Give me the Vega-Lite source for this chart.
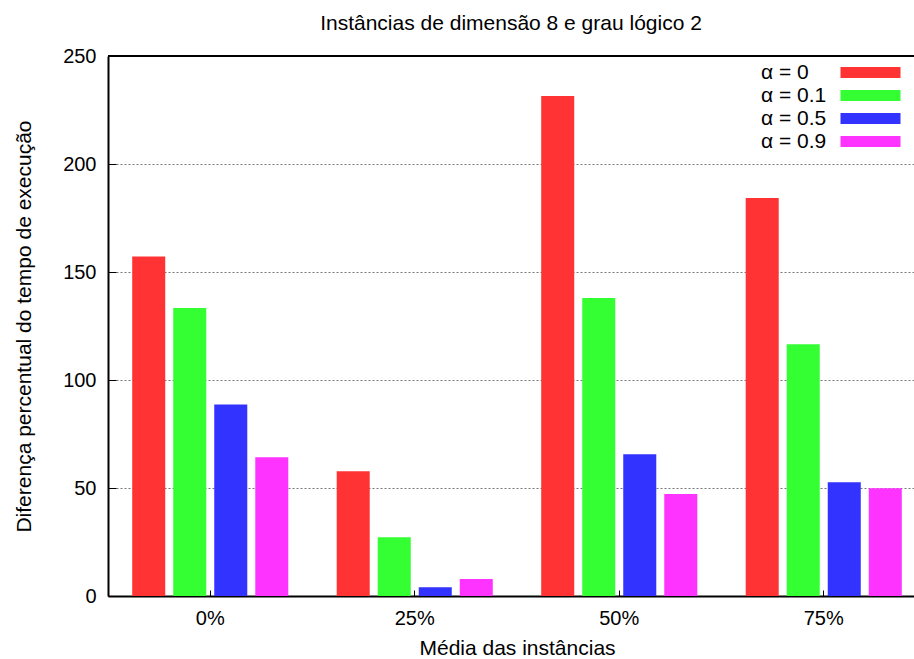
{
  "$schema": "https://vega.github.io/schema/vega-lite/v6.json",
  "autosize": "none",
  "width": 806,
  "height": 540,
  "padding": {"left": 108, "top": 56, "right": 0, "bottom": 63},
  "background": "white",
  "config": {
    "font": "Liberation Sans",
    "view": {"stroke": null},
    "axis": {"labelFont": "Liberation Sans", "titleFont": "Liberation Sans", "labelColor": "#000", "titleColor": "#000", "titleFontWeight": "normal"}
  },
  "title": {"text": "Instâncias de dimensão 8 e grau lógico 2", "fontSize": 21, "fontWeight": "normal", "font": "Liberation Sans", "color": "#000", "offset": 12},
  "data": {
    "values": [
      {"media": "0%", "alpha": "α = 0", "valor": 157.2},
      {"media": "0%", "alpha": "α = 0.1", "valor": 133.3},
      {"media": "0%", "alpha": "α = 0.5", "valor": 88.7},
      {"media": "0%", "alpha": "α = 0.9", "valor": 64.2},
      {"media": "25%", "alpha": "α = 0", "valor": 57.8},
      {"media": "25%", "alpha": "α = 0.1", "valor": 27.2},
      {"media": "25%", "alpha": "α = 0.5", "valor": 4.1},
      {"media": "25%", "alpha": "α = 0.9", "valor": 7.9},
      {"media": "50%", "alpha": "α = 0", "valor": 231.5},
      {"media": "50%", "alpha": "α = 0.1", "valor": 138.0},
      {"media": "50%", "alpha": "α = 0.5", "valor": 65.6},
      {"media": "50%", "alpha": "α = 0.9", "valor": 47.2},
      {"media": "75%", "alpha": "α = 0", "valor": 184.3},
      {"media": "75%", "alpha": "α = 0.1", "valor": 116.6},
      {"media": "75%", "alpha": "α = 0.5", "valor": 52.7},
      {"media": "75%", "alpha": "α = 0.9", "valor": 49.9}
    ]
  },
  "layer": [
    {
      "mark": {"type": "bar"},
      "encoding": {
        "x": {
          "field": "media", "type": "nominal", "sort": ["0%", "25%", "50%", "75%"],
          "scale": {"range": [0, 818], "paddingInner": 0, "paddingOuter": 0},
          "axis": {"title": "Média das instâncias", "titleFontSize": 21, "titlePadding": 9, "labelFontSize": 20, "labelAngle": 0, "labelPadding": 18, "tickSize": -6, "tickColor": "#000", "tickWidth": 1, "domainColor": "#000", "domainWidth": 2}
        },
        "xOffset": {"field": "alpha", "type": "nominal", "scale": {"paddingInner": 0.195, "paddingOuter": 0.59}},
        "y": {
          "field": "valor", "type": "quantitative",
          "scale": {"domain": [0, 250], "nice": false},
          "axis": {"title": "Diferença percentual do tempo de execução", "titleFontSize": 21, "titlePadding": 28, "labelFontSize": 20, "labelPadding": 20, "tickSize": -8, "tickColor": "#000", "tickWidth": 1, "values": [0, 50, 100, 150, 200, 250], "grid": true, "gridDash": [2, 2], "gridColor": "#777", "gridWidth": 1, "domainColor": "#000", "domainWidth": 2}
        },
        "color": {
          "field": "alpha", "type": "nominal",
          "scale": {"domain": ["α = 0", "α = 0.1", "α = 0.5", "α = 0.9"], "range": ["#ff3333", "#33ff33", "#3333ff", "#ff33ff"]},
          "legend": {
            "title": null, "orient": "none", "legendX": 752, "legendY": 6,
            "symbolType": "M-3,-0.55H3V0.55H-3Z", "symbolSize": 400, "symbolStrokeWidth": 0,
            "labelFontSize": 21, "labelFont": "Liberation Sans", "labelColor": "#000", "labelAlign": "left", "labelOffset": -120,
            "rowPadding": 1, "padding": 0, "labelLimit": 200
          }
        }
      }
    },
    {
      "mark": {"type": "rule", "color": "#000", "strokeWidth": 2},
      "encoding": {"y": {"datum": 250}}
    }
  ]
}
